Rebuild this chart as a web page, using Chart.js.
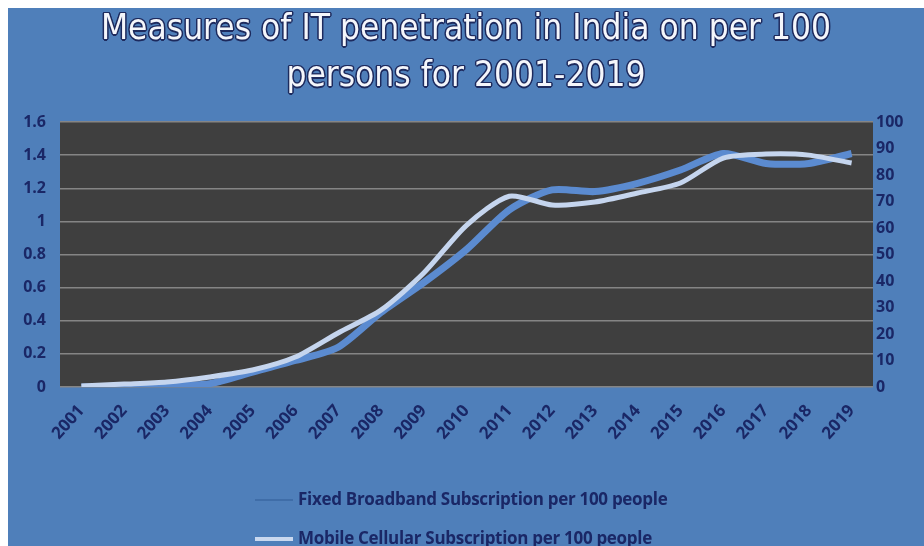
<!DOCTYPE html>
<html lang="en">
<head>
  <meta charset="UTF-8">
  <title>Measures of IT penetration in India</title>
  <script src="https://cdn.jsdelivr.net/npm/chart.js"></script>
  <style>
    html, body { margin: 0; padding: 0; background: #ffffff; }
    #wrap { position: absolute; left: 8px; top: 8px; width: 916px; height: 538px; background: #4f7fba; overflow: hidden; }
    #wrap canvas { position: absolute; left: 0; top: 0; }
    .title {
      position: absolute; left: 0; width: 916px; text-align: center;
      font-family: "DejaVu Sans Condensed", sans-serif;
      font-size: 35px; color: #f4f6fb; line-height: 47px;
      text-shadow: -1px -1px 0 #1e2b5e, 1px -1px 0 #1e2b5e, -1px 1px 0 #1e2b5e, 1px 1px 0 #1e2b5e,
                   0 -1.5px 0 #1e2b5e, 0 1.5px 0 #1e2b5e, -1.5px 0 0 #1e2b5e, 1.5px 0 0 #1e2b5e;
    }
    .legend { position: absolute; left: 247px; font: bold 17px "Open Sans", sans-serif; letter-spacing: -0.3px; color: #1a2766; white-space: nowrap; }
    .legend span.swatch { display: inline-block; width: 38px; vertical-align: middle; margin-right: 5px; }
  </style>
</head>
<body>
<div id="wrap">
  <canvas id="chart" width="916" height="538"></canvas>
  <div class="title" style="top:-4px">Measures of IT penetration in India on per 100<br>persons for 2001-2019</div>
  <div class="legend" style="top:479px"><span class="swatch" style="height:2px;background:#3f6da8"></span>Fixed Broadband Subscription per 100 people</div>
  <div class="legend" style="top:518px"><span class="swatch" style="height:4px;background:#c9d8ef"></span>Mobile Cellular Subscription per 100 people</div>
</div>

<script>
const years = ["2001", "2002", "2003", "2004", "2005", "2006", "2007", "2008", "2009", "2010",
               "2011", "2012", "2013", "2014", "2015", "2016", "2017", "2018", "2019"];
const broadband = [0, 0, 0.01, 0.02, 0.09, 0.16, 0.24, 0.45, 0.63, 0.83,
                   1.07, 1.19, 1.18, 1.23, 1.31, 1.41, 1.35, 1.35, 1.41];
const mobile = [0.4, 1.1, 1.9, 3.8, 6.4, 11.3, 20.4, 29, 43, 61,
                72, 68.7, 69.8, 73.2, 77, 86.4, 87.9, 87.5, 84.5];

const tickFont = { family: "Open Sans", size: 16, weight: "bold" };
const xTickFont = { family: "Open Sans", size: 17, weight: "bold" };
const tickColor = "#1a2766";

// dark plot area behind the lines
const plotBg = {
  id: "plotBg",
  beforeDraw(chart) {
    const a = chart.chartArea, ctx = chart.ctx;
    ctx.save();
    ctx.fillStyle = "#3f3f3f";
    ctx.fillRect(a.left, a.top, a.right - a.left, a.bottom - a.top);
    ctx.restore();
  }
};

new Chart(document.getElementById("chart"), {
  type: "line",
  data: {
    labels: years,
    datasets: [
      {
        label: "Fixed Broadband Subscription per 100 people",
        data: broadband,
        yAxisID: "y",
        borderColor: "#5b8bd0",
        borderWidth: 7,
        tension: 0.25,
        pointRadius: 0,
        order: 2
      },
      {
        label: "Mobile Cellular Subscription per 100 people",
        data: mobile,
        yAxisID: "y1",
        borderColor: "#c5d5ee",
        borderWidth: 5,
        tension: 0.25,
        pointRadius: 0,
        order: 1
      }
    ]
  },
  options: {
    responsive: false,
    animation: false,
    layout: { padding: { top: 114, left: 0, right: 0, bottom: 0 } },
    plugins: {
      legend: { display: false },
      title: { display: false },
      tooltip: { enabled: false }
    },
    scales: {
      x: {
        offset: true,
        grid: { display: false, drawTicks: false },
        border: { display: false },
        ticks: { font: xTickFont, color: tickColor, minRotation: 48, maxRotation: 48, padding: 14, autoSkip: false },
        afterFit(s) { s.height = 159; }
      },
      y: {
        position: "left",
        min: 0, max: 1.6,
        grid: { color: "#858585", lineWidth: 1.5, drawTicks: false },
        border: { display: false },
        ticks: { stepSize: 0.2, font: tickFont, color: tickColor, padding: 14,
                 callback: v => String(+v.toFixed(1)) },
        afterFit(s) { s.width = 52; }
      },
      y1: {
        position: "right",
        min: 0, max: 100,
        grid: { display: false, drawTicks: false },
        border: { display: false },
        ticks: { stepSize: 10, font: tickFont, color: tickColor, padding: 3 },
        afterFit(s) { s.width = 51; }
      }
    }
  },
  plugins: [plotBg]
});
</script>
</body>
</html>
